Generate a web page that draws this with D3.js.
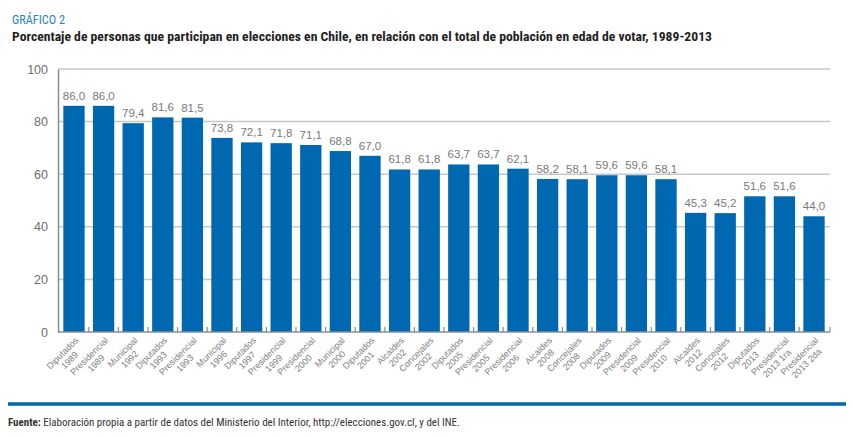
<!DOCTYPE html>
<html>
<head>
<meta charset="utf-8">
<script src="https://cdn.jsdelivr.net/npm/d3@7"></script>
<style>
  html, body { margin: 0; padding: 0; background: #fff; }
  svg { display: block; }
</style>
</head>
<body>
<svg id="chart" width="855" height="436"></svg>
<script>
const categories = [
  ["Diputados", "1989"], ["Presidencial", "1989"], ["Municipal", "1992"],
  ["Diputados", "1993"], ["Presidencial", "1993"], ["Municipal", "1996"],
  ["Diputados", "1997"], ["Presidencial", "1999"], ["Presidencial", "2000"],
  ["Municipal", "2000"], ["Diputados", "2001"], ["Alcaldes", "2002"],
  ["Concejales", "2002"], ["Diputados", "2005"], ["Presidencial", "2005"],
  ["Presidencial", "2006"], ["Alcaldes", "2008"], ["Concejales", "2008"],
  ["Diputados", "2009"], ["Presidencial", "2009"], ["Presidencial", "2010"],
  ["Alcaldes", "2012"], ["Concejales", "2012"], ["Diputados", "2013"],
  ["Presidencial", "2013 1ra"], ["Presidencial", "2013 2da"]
];
const values = [86.0, 86.0, 79.4, 81.6, 81.5, 73.8, 72.1, 71.8, 71.1, 68.8, 67.0, 61.8, 61.8,
  63.7, 63.7, 62.1, 58.2, 58.1, 59.6, 59.6, 58.1, 45.3, 45.2, 51.6, 51.6, 44.0];
const yTicks = [0, 20, 40, 60, 80, 100];
const subtitle = "GRÁFICO 2";
const title = "Porcentaje de personas que participan en elecciones en Chile, en relación con el total de población en edad de votar, 1989-2013";
const sourceBold = "Fuente:";
const sourceText = " Elaboración propia a partir de datos del Ministerio del Interior, http://elecciones.gov.cl, y del INE.";

const svg = d3.select("#chart");
const pL = 58, pR = 830, pT = 69, pB = 332;
const ids = categories.map((c, i) => i);
const x = d3.scaleBand().domain(ids).range([pL, pR]).paddingInner(0.28).paddingOuter(0.18);
const y = d3.scaleLinear().domain([0, 100]).range([pB, pT]);
const FONT = "'Liberation Sans', Arial, Helvetica, sans-serif";
const NARROW = "'Liberation Sans Narrow', 'Roboto Condensed', 'Liberation Sans', Arial, sans-serif";

// header
svg.append("text").attr("x", 12).attr("y", 24)
  .attr("font-family", NARROW).attr("font-size", 12.5).attr("fill", "#2a82c6")
  .attr("textLength", 53).attr("lengthAdjust", "spacingAndGlyphs")
  .text(subtitle);
svg.append("text").attr("x", 12).attr("y", 41)
  .attr("font-family", NARROW).attr("font-weight", "bold").attr("font-size", 13.5).attr("fill", "#222")
  .attr("textLength", 700).attr("lengthAdjust", "spacingAndGlyphs")
  .text(title);

// gridlines
svg.append("g").selectAll("line").data(yTicks.filter(d => d > 0)).join("line")
  .attr("x1", pL).attr("x2", pR)
  .attr("y1", d => y(d)).attr("y2", d => y(d))
  .attr("stroke", "#c8c8c8").attr("stroke-width", 1.5);

// y axis
const yAxis = d3.axisLeft(y).tickValues(yTicks).tickSize(0).tickPadding(10);
const gy = svg.append("g").attr("transform", `translate(${pL},0)`).call(yAxis);
gy.select(".domain").attr("stroke", "#8c8c8c").attr("stroke-width", 1.5);
gy.selectAll("text").attr("font-family", FONT).attr("font-size", 12.5).attr("fill", "#6e6e6e");

// bars
svg.append("g").selectAll("rect").data(values).join("rect")
  .attr("x", (d, i) => x(i)).attr("width", x.bandwidth())
  .attr("y", d => y(d)).attr("height", d => y(0) - y(d))
  .attr("fill", "#0067b1");

// value labels
svg.append("g").selectAll("text").data(values).join("text")
  .attr("x", (d, i) => x(i) + x.bandwidth() / 2)
  .attr("y", d => y(d) - 6)
  .attr("text-anchor", "middle")
  .attr("font-family", FONT).attr("font-size", 11.5).attr("fill", "#7a7a7a")
  .text(d => d.toFixed(1).replace(".", ","));

// x axis
svg.append("line").attr("x1", pL).attr("x2", pR).attr("y1", pB).attr("y2", pB)
  .attr("stroke", "#8c8c8c").attr("stroke-width", 1.5);
const step = x.step();
const tickXs = ids.map(i => x(i) + x.bandwidth() + (step - x.bandwidth()) / 2);
tickXs[tickXs.length - 1] = pR;
svg.append("g").selectAll("line").data(tickXs).join("line")
  .attr("x1", d => d).attr("x2", d => d).attr("y1", pB).attr("y2", pB - 5)
  .attr("stroke", "#8c8c8c").attr("stroke-width", 1.2);

// rotated category labels
const lg = svg.append("g");
categories.forEach((c, i) => {
  const cx = x(i) + x.bandwidth() / 2 + 5;
  const g = lg.append("g").attr("transform", `translate(${cx},${pB + 9}) rotate(-45)`);
  const t1 = g.append("text").attr("font-family", FONT).attr("font-size", 9).attr("fill", "#808080")
    .attr("text-anchor", "middle").attr("x", 0).attr("y", 0).text(c[0]);
  const w1 = t1.node().getComputedTextLength();
  const t2 = g.append("text").attr("font-family", FONT).attr("font-size", 9).attr("fill", "#808080")
    .attr("text-anchor", "middle").attr("x", 0).attr("y", 10).text(c[1]);
  const w2 = t2.node().getComputedTextLength();
  const W = Math.max(w1, w2);
  t1.attr("x", -W / 2);
  t2.attr("x", -W / 2);
});

// footer
svg.append("line").attr("x1", 8).attr("x2", 846).attr("y1", 404).attr("y2", 404)
  .attr("stroke", "#0067b1").attr("stroke-width", 3.5);
const ft = svg.append("text").attr("x", 8).attr("y", 426)
  .attr("font-family", NARROW).attr("font-size", 11).attr("fill", "#333")
  .attr("textLength", 452).attr("lengthAdjust", "spacingAndGlyphs");
ft.append("tspan").attr("font-weight", "bold").text(sourceBold);
ft.append("tspan").text(sourceText);
</script>
</body>
</html>
